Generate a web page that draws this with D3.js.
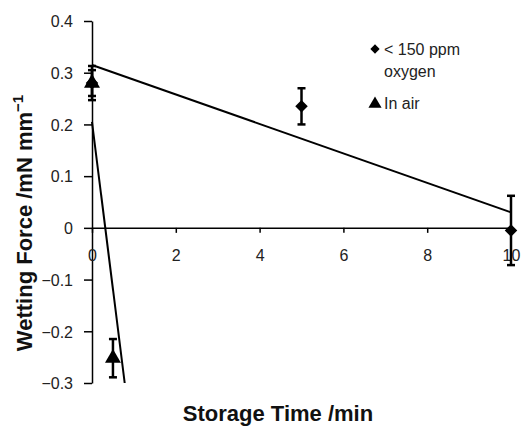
<!DOCTYPE html>
<html>
<head>
<meta charset="utf-8">
<script src="https://cdn.jsdelivr.net/npm/d3@7"></script>
<style>
  body { margin: 0; background: #fff; }
  svg { font-family: "Liberation Sans", Arial, sans-serif; }
</style>
</head>
<body>
<div id="main"></div>
<script>
// data
const oxygenTime = [0, 5, 10];
const oxygenForce = [0.28, 0.235, -0.005];
const oxygenErr = [0.033, 0.035, 0.067];

const airTime = [0, 0.5];
const airForce = [0.28, -0.252];
const airErr = [0.025, 0.037];

// linear trend lines as drawn in the figure (time, force)
const trendOxygenTime = [0, 10];
const trendOxygenForce = [0.315, 0.03];
const trendAirTime = [0, 0.78];
const trendAirForce = [0.205, -0.3];

const xTicks = [0, 2, 4, 6, 8, 10];
const yTicks = [-0.3, -0.2, -0.1, 0, 0.1, 0.2, 0.3, 0.4];

const width = 523;
const height = 426;

const x = d3.scaleLinear().domain([0, 10]).range([92, 511]);
const y = d3.scaleLinear().domain([-0.3, 0.4]).range([383, 21]);

const svg = d3.select("#main")
  .append("svg")
  .attr("width", width)
  .attr("height", height);

svg.append("defs").append("clipPath")
  .attr("id", "plot")
  .append("rect")
  .attr("x", x(0) - 5)
  .attr("y", y(0.4))
  .attr("width", x(10) - x(0) + 10)
  .attr("height", y(-0.3) - y(0.4));

const fmt = d => d === 0 ? "0" : d3.format(".1f")(d).replace("-", "\u2212");

// y axis
const yAxis = d3.axisLeft(y).tickValues(yTicks).tickSize(8).tickSizeOuter(0).tickFormat(fmt);
const gy = svg.append("g")
  .attr("transform", "translate(" + x(0) + ",0)")
  .call(yAxis);
gy.select(".domain").attr("stroke", "#000").attr("stroke-width", 1.5);
gy.selectAll(".tick line").attr("stroke", "#000").attr("stroke-width", 1.5);
gy.selectAll(".tick text")
  .attr("x", -19)
  .attr("dy", "0.36em")
  .style("font-size", "16px")
  .attr("fill", "#222");

// x axis at zero, labels pushed down
const xAxis = d3.axisBottom(x).tickValues(xTicks).tickSize(5).tickSizeOuter(0).tickFormat(d3.format("d"));
const gx = svg.append("g")
  .attr("transform", "translate(0," + y(0) + ")")
  .call(xAxis);
gx.select(".domain").attr("stroke", "#000").attr("stroke-width", 1.5);
gx.selectAll(".tick line").attr("stroke", "#000").attr("stroke-width", 1.5);
gx.selectAll(".tick text")
  .attr("y", 22)
  .style("font-size", "16px")
  .attr("fill", "#222");

// trend lines
const line = d3.line().x(d => x(d[0])).y(d => y(d[1]));
svg.append("path")
  .datum(trendOxygenTime.map((t, i) => [t, trendOxygenForce[i]]))
  .attr("d", line)
  .attr("fill", "none")
  .attr("stroke", "#000")
  .attr("stroke-width", 2)
  .attr("clip-path", "url(#plot)");
svg.append("path")
  .datum(trendAirTime.map((t, i) => [t, trendAirForce[i]]))
  .attr("d", line)
  .attr("fill", "none")
  .attr("stroke", "#000")
  .attr("stroke-width", 2)
  .attr("clip-path", "url(#plot)");

// error bars
const drawErr = (times, vals, errs) => {
  const g = svg.append("g");
  times.forEach((t, i) => {
    const cx = x(t);
    const y1 = y(vals[i] + errs[i]);
    const y2 = y(vals[i] - errs[i]);
    g.append("line").attr("x1", cx).attr("x2", cx).attr("y1", y1).attr("y2", y2)
      .attr("stroke", "#000").attr("stroke-width", 2.5);
    [y1, y2].forEach(yy => {
      g.append("line").attr("x1", cx - 4).attr("x2", cx + 4).attr("y1", yy).attr("y2", yy)
        .attr("stroke", "#000").attr("stroke-width", 2.5);
    });
  });
};
drawErr(oxygenTime, oxygenForce, oxygenErr);
drawErr(airTime, airForce, airErr);

const diamond = d3.symbol().type(d3.symbolDiamond2).size(100);
const triangle = d3.symbol().type(d3.symbolTriangle).size(110);

svg.append("g").selectAll("path")
  .data(oxygenTime)
  .enter()
  .append("path")
  .attr("transform", (d, i) => "translate(" + x(d) + "," + y(oxygenForce[i]) + ")")
  .attr("d", diamond)
  .attr("fill", "#000");

svg.append("g").selectAll("path")
  .data(airTime)
  .enter()
  .append("path")
  .attr("transform", (d, i) => "translate(" + x(d) + "," + y(airForce[i]) + ")")
  .attr("d", triangle)
  .attr("fill", "#000");

// legend
const legend = svg.append("g").attr("transform", "translate(375,0)");
legend.append("path").attr("transform", "translate(0,49)").attr("d", d3.symbol().type(d3.symbolDiamond2).size(55)).attr("fill", "#000");
legend.append("text").attr("x", 9).attr("y", 55).text("< 150 ppm").style("font-size", "16px").attr("fill", "#222");
legend.append("text").attr("x", 9).attr("y", 77).text("oxygen").style("font-size", "16px").attr("fill", "#222");
legend.append("path").attr("transform", "translate(0,104)").attr("d", d3.symbol().type(d3.symbolTriangle).size(75)).attr("fill", "#000");
legend.append("text").attr("x", 9).attr("y", 109).text("In air").style("font-size", "16px").attr("fill", "#222");

// axis titles
svg.append("text")
  .attr("x", 278)
  .attr("y", 421)
  .attr("text-anchor", "middle")
  .style("font-size", "22px")
  .style("font-weight", "bold")
  .attr("fill", "#111")
  .text("Storage Time /min");

const yt = svg.append("text")
  .attr("transform", "translate(32,223) rotate(-90)")
  .attr("text-anchor", "middle")
  .style("font-size", "22px")
  .style("font-weight", "bold")
  .attr("fill", "#111");
yt.append("tspan").text("Wetting Force /mN mm");
yt.append("tspan").attr("dy", -9).style("font-size", "15px").text("\u22121");
</script>
</body>
</html>
